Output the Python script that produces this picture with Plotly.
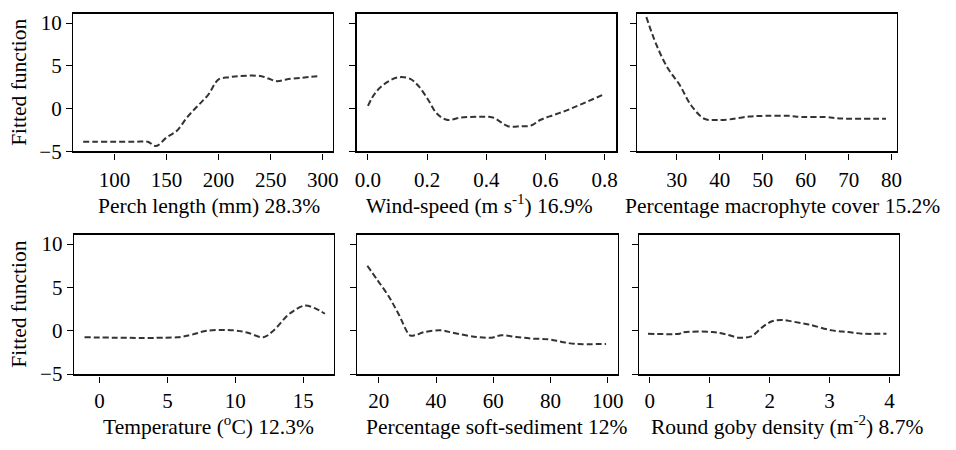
import plotly.graph_objects as go

# ---- data ----
perch_x = [70, 80, 100, 120, 132, 140, 150, 160, 170, 180, 190, 200, 210, 220, 240, 248, 256, 265, 280, 298]
perch_y = [-3.9, -3.9, -3.9, -3.9, -3.9, -4.4, -3.4, -2.6, -1.0, 0.3, 1.6, 3.4, 3.65, 3.8, 3.8, 3.5, 3.2, 3.4, 3.6, 3.8]

wind_x = [0.0, 0.026, 0.065, 0.104, 0.143, 0.171, 0.205, 0.232, 0.266, 0.316, 0.372, 0.422, 0.473, 0.517, 0.551, 0.584, 0.629, 0.674, 0.718, 0.8]
wind_y = [0.3, 1.88, 3.08, 3.65, 3.46, 2.63, 0.94, -0.56, -1.32, -1.05, -0.98, -1.05, -2.07, -2.07, -2.0, -1.32, -0.75, -0.19, 0.45, 1.69]

macro_x = [22.9, 25.2, 27.9, 30.6, 33.3, 36.4, 39.1, 42.2, 46.8, 50.6, 56.0, 59.1, 64.5, 68.3, 78.7]
macro_y = [10.7, 7.5, 4.7, 2.8, 0.38, -1.2, -1.35, -1.28, -0.94, -0.86, -0.86, -1.0, -1.0, -1.17, -1.2]

temp_x = [-1.1, 5.73, 6.7, 7.9, 9.9, 10.85, 12.07, 12.8, 13.8, 14.3, 15.1, 15.85, 16.6]
temp_y = [-0.75, -0.75, -0.5, 0.0, 0.04, -0.2, -0.75, 0.0, 1.7, 2.3, 2.9, 2.6, 1.96]

sed_x = [16, 19.4, 23.4, 26.9, 30.9, 32.6, 36, 41.7, 46.3, 54.3, 59.4, 62.9, 68, 73.7, 79.4, 84, 88.6, 99.4]
sed_y = [7.5, 5.9, 4.0, 1.94, -0.53, -0.53, -0.15, 0.04, -0.27, -0.72, -0.8, -0.53, -0.72, -0.91, -0.99, -1.29, -1.52, -1.52]

goby_x = [-0.03, 0.5, 0.55, 1.05, 1.27, 1.49, 1.69, 1.88, 2.04, 2.21, 2.38, 2.65, 3.04, 3.31, 3.54, 3.95]
goby_y = [-0.34, -0.34, -0.19, -0.15, -0.42, -0.8, -0.65, 0.42, 1.1, 1.25, 1.06, 0.72, 0.04, -0.15, -0.34, -0.34]

titles = [
    "Perch length (mm) 28.3%",
    "Wind-speed (m s<sup>-1</sup>) 16.9%",
    "Percentage macrophyte cover 15.2%",
    "Temperature (<sup>o</sup>C) 12.3%",
    "Percentage soft-sediment 12%",
    "Round goby density (m<sup>-2</sup>) 8.7%",
]
y_ticks = [-5, 0, 5, 10]
y_label = "Fitted function"

series = [(perch_x, perch_y), (wind_x, wind_y), (macro_x, macro_y),
          (temp_x, temp_y), (sed_x, sed_y), (goby_x, goby_y)]
x_ticks = [[100, 150, 200, 250, 300], [0.0, 0.2, 0.4, 0.6, 0.8], [30, 40, 50, 60, 70, 80],
           [0, 5, 10, 15], [20, 40, 60, 80, 100], [0, 1, 2, 3, 4]]
x_ticktext = [["100", "150", "200", "250", "300"], ["0.0", "0.2", "0.4", "0.6", "0.8"],
              ["30", "40", "50", "60", "70", "80"], ["0", "5", "10", "15"],
              ["20", "40", "60", "80", "100"], ["0", "1", "2", "3", "4"]]
x_ranges = [[60.6, 309.4], [-0.038, 0.839], [20.8, 81.2], [-1.87, 17.23], [12.5, 103.4], [-0.175, 4.154]]

W, H = 956, 450
xdoms = [[72, 333.3], [357.7, 619.3], [640.7, 902.3], [72.7, 334.3], [358.3, 620.7], [642.7, 904.3]]
ydoms = [[12, 154]] * 3 + [[240, 384]] * 3
title_cx = [208.5, 481.7, 786.7, 208.3, 498.7, 791.7]   # title centres (px)
title_base = [218.8] * 3 + [446.2] * 3                  # title baselines (px)
label_standoff = [2] * 3 + [0] * 3
TICK_GAP = 2          # R draws the x tick axis slightly below the box
DESC = 0.216          # Liberation Serif descent (em)

FONT = "Liberation Serif"
TICK_SIZE = 21
TITLE_SIZE = 21.5
fig = go.Figure()
layout = dict(width=W, height=H, margin=dict(l=0, r=0, t=0, b=0),
              paper_bgcolor="white", plot_bgcolor="white", showlegend=False,
              font=dict(family=FONT, size=TITLE_SIZE, color="black"))
annotations = []
for i, (xs, ys) in enumerate(series):
    n = i + 1
    xa = "x" if n == 1 else f"x{n}"
    ya = "y" if n == 1 else f"y{n}"
    xt = f"x{n + 6}"  # overlay axis carrying the ticks and tick labels
    fig.add_trace(go.Scatter(x=xs, y=ys, mode="lines", xaxis=xa, yaxis=ya,
                             line=dict(color="#333333", width=2, dash="6px,3px"),
                             line_shape="spline", hoverinfo="skip"))
    fig.add_trace(go.Scatter(x=[], y=[], mode="lines", xaxis=xt, yaxis=ya,
                             hoverinfo="skip"))
    xd = [xdoms[i][0] / W, xdoms[i][1] / W]
    yd = [1 - ydoms[i][1] / H, 1 - ydoms[i][0] / H]
    key = "" if n == 1 else str(n)
    layout["xaxis" + key] = dict(domain=xd, range=x_ranges[i], anchor=ya,
                                 showticklabels=False, ticks="",
                                 showline=True, mirror=True, linecolor="black", linewidth=1.5,
                                 showgrid=False, zeroline=False)
    layout[f"xaxis{n + 6}"] = dict(overlaying=xa, anchor="free", side="bottom",
                                   position=1 - (ydoms[i][1] + TICK_GAP) / H,
                                   range=x_ranges[i],
                                   tickvals=x_ticks[i], ticktext=x_ticktext[i],
                                   ticks="outside", ticklen=6, tickwidth=1, tickcolor="black",
                                   ticklabelstandoff=label_standoff[i],
                                   showline=False, showgrid=False, zeroline=False,
                                   tickfont=dict(family=FONT, size=TICK_SIZE, color="black"))
    layout["yaxis" + key] = dict(domain=yd, range=[-5, 11.1], anchor=xa,
                                 tickvals=y_ticks, showticklabels=(i % 3 == 0),
                                 ticks="outside", ticklen=6, tickwidth=1, tickcolor="black",
                                 showline=True, mirror=True, linecolor="black", linewidth=1.5,
                                 showgrid=False, zeroline=False,
                                 tickfont=dict(family=FONT, size=TICK_SIZE, color="black"))
    bottom_px = title_base[i] + DESC * TITLE_SIZE
    annotations.append(dict(text=titles[i], xref="paper", yref="paper",
                            x=title_cx[i] / W, y=1 - bottom_px / H,
                            xanchor="center", yanchor="bottom", showarrow=False,
                            borderpad=0, borderwidth=0,
                            font=dict(family=FONT, size=TITLE_SIZE, color="black")))
    if i % 3 == 0:
        annotations.append(dict(text=y_label, xref="paper", yref="paper",
                                x=17.6 / W, y=(yd[0] + yd[1]) / 2, textangle=-90,
                                xanchor="center", yanchor="middle", showarrow=False,
                                borderpad=0, borderwidth=0,
                                font=dict(family=FONT, size=TITLE_SIZE, color="black")))
layout["annotations"] = annotations
fig.update_layout(**layout)
fig.write_html("out.html", config={"displayModeBar": False, "staticPlot": True},
               post_script="document.body.style.margin='0';document.body.style.overflow='hidden';")
